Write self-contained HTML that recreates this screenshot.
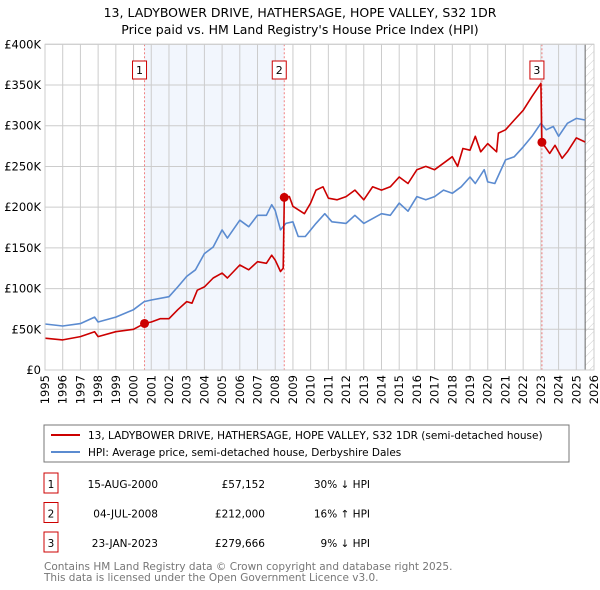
<!DOCTYPE html>
<html><head><meta charset="utf-8"><style>
body{margin:0;background:#fff;font-family:"DejaVu Sans","Liberation Sans",sans-serif;}
#wrap{position:relative;width:600px;height:590px;overflow:hidden}
</style></head><body><div id="wrap">
<svg id="svg" width="600" height="590" xmlns="http://www.w3.org/2000/svg" font-family="DejaVu Sans, Liberation Sans, sans-serif">
<defs><pattern id="hatch" width="6" height="6" patternUnits="userSpaceOnUse" patternTransform="rotate(45)"><line x1="0" y1="0" x2="0" y2="6" stroke="#ccc" stroke-width="1"/></pattern></defs>
<text x="300" y="17" text-anchor="middle" font-size="12.5">13, LADYBOWER DRIVE, HATHERSAGE, HOPE VALLEY, S32 1DR</text>
<text x="300" y="34" text-anchor="middle" font-size="12.5">Price paid vs. HM Land Registry's House Price Index (HPI)</text>
<g id="plot"></g>
<rect x="44" y="425" width="525" height="37" fill="#fff" stroke="#777"/>
<line x1="51" y1="435" x2="80" y2="435" stroke="#cc0000" stroke-width="2"/>
<text x="88" y="439" font-size="10.5">13, LADYBOWER DRIVE, HATHERSAGE, HOPE VALLEY, S32 1DR (semi-detached house)</text>
<line x1="51" y1="452" x2="80" y2="452" stroke="#5b8bd0" stroke-width="2"/>
<text x="88" y="456" font-size="10.5">HPI: Average price, semi-detached house, Derbyshire Dales</text>
<g id="table" font-size="10.5"></g>
<text x="44" y="570" font-size="10.5" fill="#777">Contains HM Land Registry data © Crown copyright and database right 2025.</text>
<text x="44" y="581" font-size="10.5" fill="#777">This data is licensed under the Open Government Licence v3.0.</text>
</svg></div>
<script>
const hpiYears=[1995,1996,1997,1997.8,1998,1999,2000,2000.6,2001,2002,2002.5,2003,2003.5,2004,2004.5,2005,2005.3,2006,2006.5,2007,2007.5,2007.8,2008,2008.3,2008.6,2009,2009.3,2009.7,2010.3,2010.8,2011.2,2012,2012.5,2013,2014,2014.5,2015,2015.5,2016,2016.5,2017,2017.5,2018,2018.5,2019,2019.3,2019.8,2020,2020.4,2021,2021.5,2022,2022.5,2023,2023.3,2023.7,2024,2024.5,2025,2025.5];
const hpiValues=[56.5,54,57,65,59,65,74,84,86,90,102,115,123,143,151,172,162,184,176,190,190,203,196,172,180,182,164,164,180,192,182,180,190,180,192,190,205,195,213,209,213,221,217,225,237,229,246,231,229,258,262,274,287,303,295,299,287,303,309,307];
const priceYears=[1995,1996,1997,1997.8,1998,1999,2000,2000.62,2001,2001.5,2002,2002.5,2003,2003.3,2003.6,2004,2004.5,2005,2005.3,2006,2006.5,2007,2007.5,2007.8,2008,2008.3,2008.45,2008.51,2008.8,2009,2009.65,2010,2010.3,2010.7,2011,2011.5,2012,2012.5,2013,2013.5,2014,2014.5,2015,2015.5,2016,2016.5,2017,2017.5,2018,2018.3,2018.6,2019,2019.3,2019.6,2020,2020.5,2020.6,2021,2021.5,2022,2022.5,2023.0,2023.06,2023.5,2023.8,2024.2,2024.5,2025,2025.5];
const priceValues=[39,37,41,47,41,47,50,57.2,59,63,63,74,84,82,98,102,113,119,113,129,123,133,131,141,135,121,125,212,213,201,192,205,221,225,211,209,213,221,209,225,221,225,237,229,246,250,246,254,262,250,272,270,287,268,278,268,291,295,307,319,336,352,279.7,266,276,260,268,285,280];
const saleLabels=["1","2","3"];
const saleYears=[2000.62,2008.51,2023.06];
const saleValues=[57.152,212,279.666];
const saleDates=["15-AUG-2000","04-JUL-2008","23-JAN-2023"];
const salePrices=["£57,152","£212,000","£279,666"];
const saleDiffs=["30% ↓ HPI","16% ↑ HPI","9% ↓ HPI"];
const yTicks=[0,50,100,150,200,250,300,350,400];
const yTickLabels=["£0","£50K","£100K","£150K","£200K","£250K","£300K","£350K","£400K"];
const xTicks=[1995,1996,1997,1998,1999,2000,2001,2002,2003,2004,2005,2006,2007,2008,2009,2010,2011,2012,2013,2014,2015,2016,2017,2018,2019,2020,2021,2022,2023,2024,2025,2026];

const X0=45,X1=594,Y0=370,Y1=44.3;
const xs=y=>X0+(y-1995)/(2026-1995)*(X1-X0);
const ys=v=>Y0-v/400*(Y0-Y1);
const NS="http://www.w3.org/2000/svg";
const g=document.getElementById('plot');
function mk(tag,attrs,parent){const e=document.createElementNS(NS,tag);for(const k in attrs)e.setAttribute(k,attrs[k]);(parent||g).appendChild(e);return e;}
mk('rect',{x:X0,y:Y1,width:X1-X0,height:Y0-Y1,fill:'#fff'});
let r=mk('rect',{x:xs(saleYears[0]),y:Y1,width:xs(saleYears[1])-xs(saleYears[0]),height:Y0-Y1,fill:'#f2f6fd'});


r=mk('rect',{x:xs(saleYears[2]),y:Y1,width:xs(2025.5)-xs(saleYears[2]),height:Y0-Y1,fill:'#f2f6fd'});


r=mk('rect',{x:xs(2025.5),y:Y1,width:X1-xs(2025.5),height:Y0-Y1,fill:'url(#hatch)'});


yTicks.forEach((v,i)=>{
  const l=mk('line',{x1:X0,x2:X1,y1:ys(v),y2:ys(v),stroke:'#ccc','stroke-width':1});
  
  
  const t=mk('text',{x:X0-4,y:ys(v)+4,'text-anchor':'end','font-size':11.5});
  t.textContent=yTickLabels[i];
  
  
});
xTicks.forEach(y=>{
  const l=mk('line',{x1:xs(y),x2:xs(y),y1:Y1,y2:Y0,stroke:'#ccc','stroke-width':1});
  
  
  const t=mk('text',{x:0,y:0,'text-anchor':'end','font-size':11.5,transform:`translate(${xs(y)+4},${Y0+5}) rotate(-90)`});
  t.textContent=y;
  
  
});
mk('line',{x1:xs(2025.5),x2:xs(2025.5),y1:Y1,y2:Y0,stroke:'#666','stroke-width':1});
saleYears.forEach((y,i)=>{
  const l=mk('line',{x1:xs(y),x2:xs(y),y1:Y1,y2:Y0,stroke:'#f08080','stroke-width':1,'stroke-dasharray':'2,2'});
  
  
});
function path(xsA,vs,color,name){
  const d=xsA.map((y,i)=>(i?'L':'M')+xs(y).toFixed(1)+','+ys(vs[i]).toFixed(1)).join('');
  const p=mk('path',{d,fill:'none',stroke:color,'stroke-width':1.6,'stroke-linejoin':'round'});
  
  
}
path(hpiYears,hpiValues,'#5b8bd0','hpi-line');
path(priceYears,priceValues,'#cc0000','price-paid-line');
saleYears.forEach((y,i)=>{
  const c=mk('circle',{cx:xs(y),cy:ys(saleValues[i]),r:4.5,fill:'#cc0000'});
  
  
  const bx=xs(y)-12,by=61;
  const b=mk('rect',{x:bx,y:by,width:14,height:18,fill:'#fff',stroke:'#cc0000'});
  
  
  const t=mk('text',{x:bx+7,y:by+13,'text-anchor':'middle','font-size':11});
  t.textContent=saleLabels[i];
  
  
});
mk('rect',{x:X0,y:Y1,width:X1-X0,height:Y0-Y1,fill:'none',stroke:'#ccc'});
const tb=document.getElementById('table');
saleLabels.forEach((s,i)=>{
  const yy=484+i*29.5;
  const b=mk('rect',{x:44,y:yy-11,width:14,height:20,fill:'#fff',stroke:'#cc0000'},tb);
  
  
  const cells=[[51,s,'middle'],[158,saleDates[i],'end'],[265,salePrices[i],'end'],[370,saleDiffs[i],'end']];
  cells.forEach(c=>{const t=mk('text',{x:c[0],y:yy+4,'text-anchor':c[2]},tb);t.textContent=c[1];
    
    });
});
</script></body></html>
